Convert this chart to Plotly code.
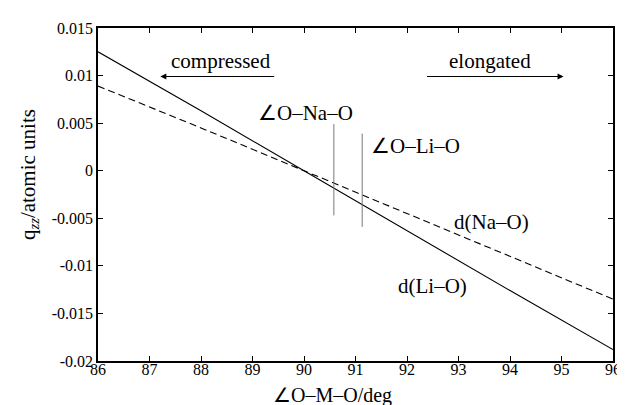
import plotly.graph_objects as go

# Data
angle = [86, 88, 90, 92, 94, 96]
q_li = [0.0125, 0.0063, 0.0, -0.0063, -0.0126, -0.0188]
q_na = [0.0089, 0.0045, 0.0, -0.0045, -0.0090, -0.0135]

na_marker_x = [90.58, 90.58]
na_marker_y = [0.0049, -0.0047]
li_marker_x = [91.13, 91.13]
li_marker_y = [0.0039, -0.0059]

x_ticks = [86, 87, 88, 89, 90, 91, 92, 93, 94, 95, 96]
y_ticks = [0.015, 0.01, 0.005, 0, -0.005, -0.01, -0.015, -0.02]
y_tick_labels = ["0.015", "0.01", "0.005", "0", "-0.005", "-0.01", "-0.015", "-0.02"]

FONT = "'Liberation Serif', 'Times New Roman', serif"

fig = go.Figure()
fig.add_trace(go.Scatter(x=angle, y=q_li, mode="lines",
                         line=dict(color="black", width=1.1), showlegend=False))
fig.add_trace(go.Scatter(x=angle, y=q_na, mode="lines",
                         line=dict(color="black", width=1.1, dash="7px,4px"), showlegend=False))
fig.add_trace(go.Scatter(x=na_marker_x, y=na_marker_y, mode="lines",
                         line=dict(color="#777777", width=1), showlegend=False))
fig.add_trace(go.Scatter(x=li_marker_x, y=li_marker_y, mode="lines",
                         line=dict(color="#777777", width=1), showlegend=False))

ann = []
def txt(x, y, t, size=21):
    ann.append(dict(x=x, y=y, xref="x", yref="y", text=t, showarrow=False,
                    font=dict(family=FONT, size=size, color="black"),
                    xanchor="center", yanchor="middle"))

txt(88.39, 0.0115, "compressed")
txt(93.62, 0.0115, "elongated")
txt(90.02, 0.00607, "∠O–Na–O")
txt(92.17, 0.0026, "∠O–Li–O")
txt(93.64, -0.00534, "d(Na–O)")
txt(92.49, -0.0121, "d(Li–O)")

# arrows
ann.append(dict(x=87.21, y=0.0099, ax=89.45, ay=0.0099, xref="x", yref="y",
                axref="x", ayref="y", text="", showarrow=True, arrowhead=2,
                arrowsize=1, arrowwidth=1.2, arrowcolor="black"))
ann.append(dict(x=95.04, y=0.0099, ax=92.36, ay=0.0099, xref="x", yref="y",
                axref="x", ayref="y", text="", showarrow=True, arrowhead=2,
                arrowsize=1, arrowwidth=1.2, arrowcolor="black"))

# axis titles
ann.append(dict(x=(20 - 90) / 522, y=(353 - 165) / 335, xref="paper", yref="paper",
                text="q<sub><i>zz</i></sub>/atomic units", showarrow=False, textangle=-90,
                font=dict(family=FONT, size=21, color="black"),
                xanchor="center", yanchor="middle"))
ann.append(dict(x=(328 - 90) / 522, y=(353 - 401) / 335, xref="paper", yref="paper",
                text="∠O–M–O/deg", showarrow=False,
                font=dict(family=FONT, size=20, color="black"),
                xanchor="center", yanchor="bottom"))

fig.update_layout(
    width=625, height=405,
    margin=dict(l=90, r=13, t=18, b=52),
    paper_bgcolor="white", plot_bgcolor="white",
    font=dict(family=FONT, size=16, color="black"),
    annotations=ann,
    xaxis=dict(range=[86, 96], tickvals=x_ticks, ticktext=[str(v) for v in x_ticks],
               ticks="inside", ticklen=5, tickcolor="black", showline=True,
               linecolor="black", linewidth=1.5, mirror="ticks", showgrid=False,
               zeroline=False, tickfont=dict(family=FONT, size=16),
               ticklabelstandoff=-7),
    yaxis=dict(range=[-0.02, 0.015], tickvals=y_ticks, ticktext=y_tick_labels,
               ticks="inside", ticklen=5, tickcolor="black", showline=True,
               linecolor="black", linewidth=1.5, mirror="ticks", showgrid=False,
               zeroline=False, tickfont=dict(family=FONT, size=16)),
)

fig.write_html("out.html")
